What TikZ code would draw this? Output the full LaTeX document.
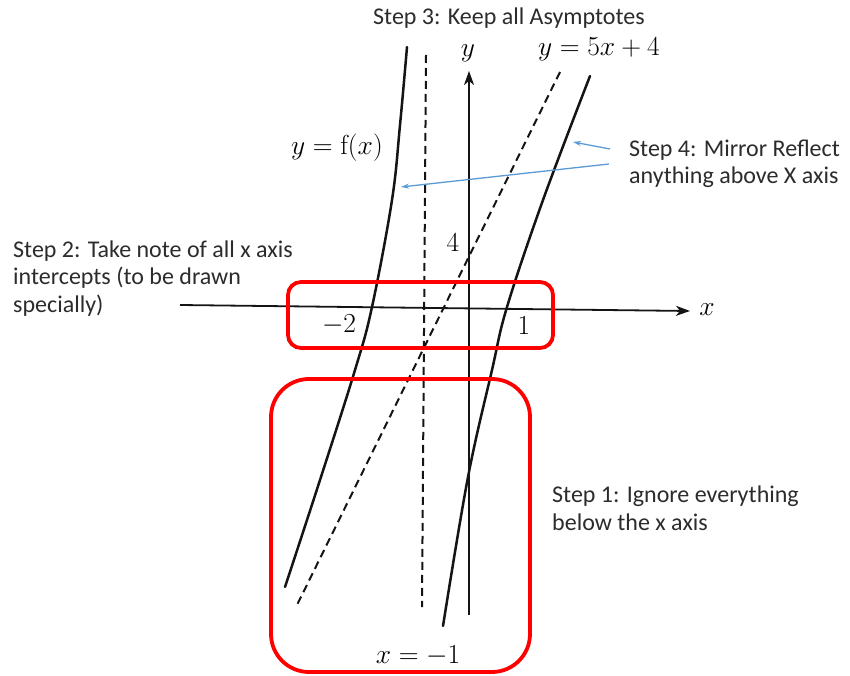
\RequirePackage{fix-cm}
\documentclass[tikz,border=0pt]{standalone}
\usepackage[no-math]{fontspec}
\setmainfont{Carlito}
\usetikzlibrary{arrows.meta}
\definecolor{noteblue}{RGB}{91,155,213}
\definecolor{boxred}{RGB}{255,0,0}
\definecolor{ink}{RGB}{20,20,20}
\begin{document}
\begin{tikzpicture}[x=1pt,y=-1pt,
  note/.style={font=\fontsize{24}{27.3}\selectfont, text=ink!90, inner sep=0pt, align=left},
  mlab/.style={font=\fontsize{27.5}{31}\selectfont, text=black, inner sep=0pt},
  axisline/.style={line width=1.8pt, draw=ink},
  curveline/.style={line width=2.5pt, draw=ink, line cap=round},
  asym/.style={line width=2pt, draw=ink, dash pattern=on 8pt off 5pt},
  redbox/.style={line width=3.8pt, draw=boxred},
  bluearrow/.style={line width=1.3pt, draw=noteblue, -{Stealth[length=8pt,width=5pt]}}]
\useasboundingbox (0,0) rectangle (850,676);
\fill[white] (0,0) rectangle (850,676);

% axes
\coordinate (xs) at (180,305);
\coordinate (xe) at (690,311);
\coordinate (ys) at (469,615);
\coordinate (ye) at (469,71);
\draw[axisline,-{Stealth[length=14pt,width=10pt,inset=4pt]}] (xs) -- (xe);
\draw[axisline,-{Stealth[length=14pt,width=10pt,inset=4pt]}] (ys) -- (ye);
\node[mlab] (xl) at (707,310) {$x$};
\node[mlab] (yl) at (468,53) {$y$};

% asymptotes
\coordinate (va) at (426,55);
\coordinate (vb) at (422,607);
\draw[asym] (va) -- (vb);
\coordinate (oa) at (560,72);
\coordinate (ob) at (297,605);
\draw[asym] (oa) -- (ob);

% curve branches
\draw[curveline] plot[smooth,tension=0.6] coordinates {(407,47) (400,125) (392,200) (372,307) (355,370) (320,480) (285,587)};
\draw[curveline] plot[smooth,tension=0.6] coordinates {(590,76) (543,200) (507,307) (492,370) (468,477) (443,626)};

% math labels
\node[mlab] (fx) at (337,148) {$y=\mathrm{f}(x)$};
\node[mlab] (ob-l) at (599,49) {$y=5x+4$};
\node[mlab] (four) at (453,243) {$4$};
\node[mlab] (mtwo) at (339,325) {$-2$};
\node[mlab] (one) at (524,326) {$1$};
\node[mlab] (xm1) at (418,656) {$x=-1$};

% red boxes
\draw[redbox, rounded corners=13pt] (288,282) rectangle (553,348);
\draw[redbox, rounded corners=38pt] (271,379) rectangle (530,672);

% notes (base = baseline of last line)
\node[note, anchor=base west] (s3) at (373,25) {Step 3: Keep all Asymptotes};
\node[note, anchor=base west] (s4) at (629,184) {Step 4: Mirror Reflect\\anything above X axis};
\node[note, anchor=base west] (s2) at (13,312) {Step 2: Take note of all x axis\\intercepts (to be drawn\\specially)};
\node[note, anchor=base west] (s1) at (552,530) {Step 1: Ignore everything\\below the x axis};

% blue arrows
\coordinate (b1s) at (610,149);
\coordinate (b1e) at (573,142);
\coordinate (b2s) at (609,164);
\coordinate (b2e) at (401,187);
\draw[bluearrow] (b1s) -- (b1e);
\draw[bluearrow] (b2s) -- (b2e);
\end{tikzpicture}
\end{document}
